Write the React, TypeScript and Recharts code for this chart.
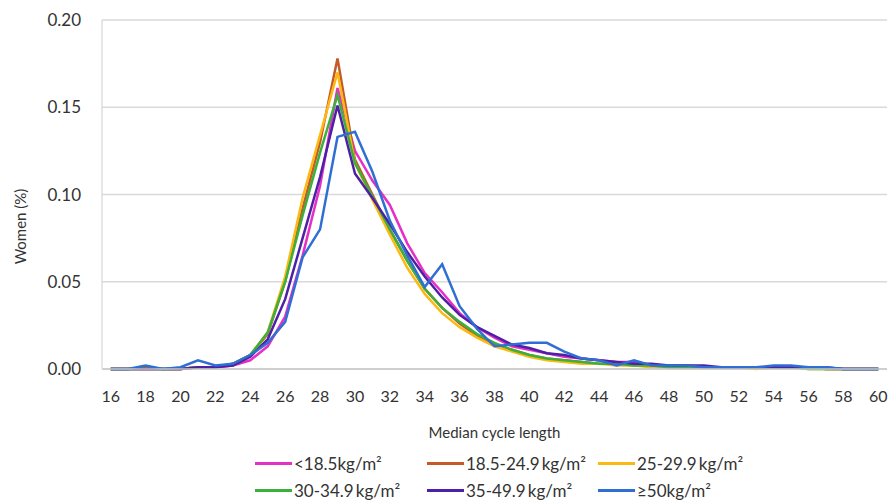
import { LineChart, Line, XAxis, YAxis, CartesianGrid, Legend } from "recharts";

const cycleLengths = [
  16, 17, 18, 19, 20, 21, 22, 23, 24, 25, 26, 27, 28, 29, 30, 31, 32, 33, 34, 35, 36, 37, 38,
  39, 40, 41, 42, 43, 44, 45, 46, 47, 48, 49, 50, 51, 52, 53, 54, 55, 56, 57, 58, 59, 60,
];

const xTicks = [16, 18, 20, 22, 24, 26, 28, 30, 32, 34, 36, 38, 40, 42, 44, 46, 48, 50, 52, 54, 56, 58, 60];
const yTicks = [0, 0.05, 0.1, 0.15, 0.2];

const under185 = [
  0, 0, 0, 0, 0, 0.001, 0.001, 0.002, 0.005, 0.013, 0.03, 0.065, 0.105, 0.161, 0.125, 0.108, 0.094,
  0.072, 0.055, 0.044, 0.032, 0.024, 0.018, 0.013, 0.011, 0.009, 0.007, 0.006, 0.005, 0.004, 0.004,
  0.002, 0.002, 0.002, 0.001, 0.001, 0.001, 0.001, 0.001, 0.001, 0.001, 0, 0, 0, 0,
];
const bmi185to249 = [
  0, 0, 0.001, 0, 0, 0.001, 0.001, 0.003, 0.008, 0.02, 0.05, 0.092, 0.13, 0.178, 0.12, 0.1, 0.08,
  0.062, 0.046, 0.035, 0.026, 0.019, 0.014, 0.011, 0.008, 0.006, 0.005, 0.004, 0.003, 0.003, 0.002,
  0.002, 0.001, 0.001, 0.001, 0.001, 0.001, 0.001, 0.001, 0.001, 0.001, 0, 0, 0, 0,
];
const bmi25to299 = [
  0, 0, 0, 0, 0, 0.001, 0.001, 0.003, 0.008, 0.021, 0.053, 0.098, 0.134, 0.17, 0.118, 0.097, 0.077,
  0.058, 0.043, 0.032, 0.024, 0.018, 0.013, 0.01, 0.007, 0.005, 0.004, 0.003, 0.003, 0.002, 0.002,
  0.001, 0.001, 0.001, 0.001, 0.001, 0.001, 0, 0.001, 0.001, 0, 0, 0, 0, 0,
];
const bmi30to349 = [
  0, 0, 0, 0, 0, 0.001, 0.001, 0.003, 0.008, 0.021, 0.05, 0.088, 0.124, 0.157, 0.118, 0.099, 0.08,
  0.062, 0.046, 0.035, 0.027, 0.02, 0.015, 0.011, 0.008, 0.006, 0.005, 0.004, 0.003, 0.003, 0.002,
  0.002, 0.001, 0.001, 0.001, 0.001, 0.001, 0.001, 0.001, 0.001, 0, 0, 0, 0, 0,
];
const bmi35to499 = [
  0, 0, 0, 0, 0, 0.001, 0.001, 0.002, 0.007, 0.017, 0.04, 0.075, 0.11, 0.151, 0.112, 0.098, 0.083,
  0.067, 0.053, 0.041, 0.031, 0.024, 0.019, 0.014, 0.012, 0.009, 0.008, 0.006, 0.005, 0.004, 0.003,
  0.003, 0.002, 0.002, 0.002, 0.001, 0.001, 0.001, 0.001, 0.001, 0.001, 0.001, 0, 0, 0,
];
const over50 = [
  0, 0, 0.002, 0, 0.001, 0.005, 0.002, 0.003, 0.008, 0.015, 0.027, 0.064, 0.08, 0.133, 0.136, 0.113,
  0.085, 0.065, 0.047, 0.06, 0.036, 0.023, 0.013, 0.014, 0.015, 0.015, 0.01, 0.006, 0.005, 0.002,
  0.005, 0.002, 0.002, 0.002, 0.001, 0.001, 0.001, 0.001, 0.002, 0.002, 0.001, 0.001, 0, 0, 0,
];

const series = [
  { key: "a", name: "<18.5kg/m²", color: "#e52fc6", values: under185 },
  { key: "b", name: "18.5-24.9\u2009kg/m²", color: "#c55a28", values: bmi185to249 },
  { key: "c", name: "25-29.9\u2009kg/m²", color: "#fdb913", values: bmi25to299 },
  { key: "d", name: "30-34.9\u2009kg/m²", color: "#3cb03c", values: bmi30to349 },
  { key: "e", name: "35-49.9\u2009kg/m²", color: "#4d20a5", values: bmi35to499 },
  { key: "f", name: "≥50kg/m²", color: "#2f6fd3", values: over50 },
];

const data = cycleLengths.map((len, i) => {
  const row: any = { len };
  series.forEach((s) => (row[s.key] = s.values[i]));
  return row;
});

const font = "Lato, 'Open Sans', sans-serif";

function LegendBox() {
  return (
    <div
      style={{
        position: "relative",
        marginLeft: 255,
        display: "grid",
        gridTemplateColumns: "172px 171px 180px",
        gridAutoRows: "27px",
        fontFamily: font,
        fontSize: 17,
        color: "#333",
      }}
    >
      {series.map((s) => (
        <div key={s.key} style={{ display: "flex", alignItems: "center", whiteSpace: "nowrap" }}>
          <span style={{ display: "inline-block", width: 37, height: 3, background: s.color, marginRight: 2 }} />
          <span>{s.name}</span>
        </div>
      ))}
    </div>
  );
}

export default function App() {
  return (
    <div style={{ position: "absolute", left: 0, top: 0, background: "#fff" }}>
      <LineChart width={889} height={504} data={data} margin={{ top: 20, right: 2, bottom: 66, left: 0 }}>
        <CartesianGrid vertical={false} stroke="#d9d9d9" strokeWidth={1.3} />
        <XAxis
          dataKey="len"
          type="number"
          domain={[15.5, 60.5]}
          ticks={xTicks}
          interval={0}
          tickLine={false}
          tickSize={0}
          tickMargin={22}
          height={69}
          stroke="#c8c8c8"
          strokeWidth={1.5}
          tick={{ fill: "#333", fontSize: 16, fontFamily: font }}
          label={{ value: "Median cycle length", position: "insideBottom", offset: 0, fill: "#333", fontSize: 15, fontFamily: font }}
        />
        <YAxis
          domain={[0, 0.2]}
          ticks={yTicks}
          tickFormatter={(v: number) => v.toFixed(2)}
          width={102}
          tickLine={false}
          tickSize={0}
          tickMargin={21}
          stroke="#d9d9d9"
          strokeWidth={1.3}
          tick={{ fill: "#333", fontSize: 17, fontFamily: font }}
          label={{
            content: (props: any) => {
              const vb = props.viewBox;
              const cx = vb.x + 20;
              const cy = vb.y + vb.height / 2 + 32;
              return (
                <text
                  x={cx}
                  y={cy}
                  transform={`rotate(-90 ${cx} ${cy})`}
                  textAnchor="middle"
                  dominantBaseline="central"
                  fill="#333"
                  fontSize={15}
                  fontFamily={font}
                >
                  Women (%)
                </text>
              );
            },
          }}
        />
        <Legend
          layout="horizontal"
          verticalAlign="middle"
          align="center"
          wrapperStyle={{ top: 450, left: 0, width: 889 }}
          content={() => <LegendBox />}
        />
        {series.map((s) => (
          <Line
            key={s.key}
            dataKey={s.key}
            name={s.name}
            stroke={s.color}
            strokeWidth={2.5}
            dot={false}
            isAnimationActive={false}
          />
        ))}
      </LineChart>
    </div>
  );
}
